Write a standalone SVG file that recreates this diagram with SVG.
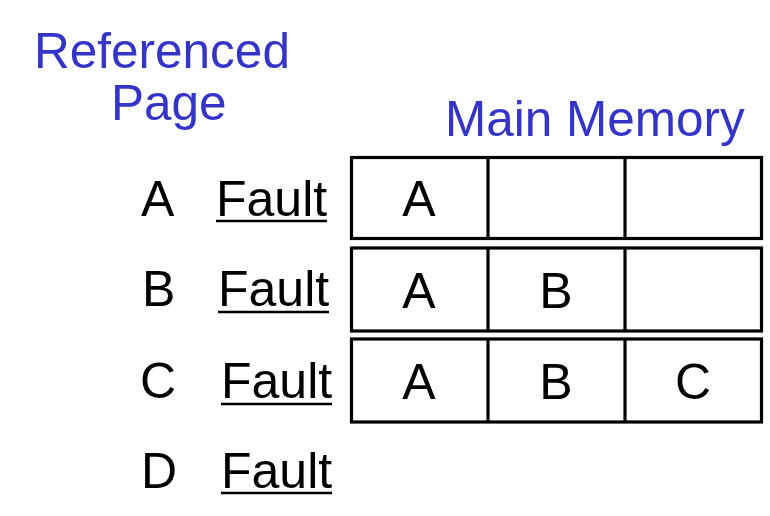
<svg xmlns="http://www.w3.org/2000/svg" width="770" height="516" viewBox="0 0 770 516">
<style>
.t{font-family:"Liberation Sans",Arial,sans-serif;font-size:50px;fill:#000}
.h{font-family:"Liberation Sans",Arial,sans-serif;font-size:49.5px;fill:#3434C8}
.c{text-anchor:middle}
.box{fill:#fff;stroke:#000;stroke-width:3.2}
.ul{stroke:#000;stroke-width:2.5}
</style>
<rect width="770" height="516" fill="#fff"/>
<g id="title-referenced">
<text class="h" x="34" y="68">Referenced</text>
<text class="h" x="111" y="120">Page</text>
</g>
<g id="title-memory">
<text class="h" x="445" y="136">Main Memory</text>
</g>
<g id="ref-A">
<text class="t" x="141" y="216">A</text>
<text class="t" x="216" y="216">Fault</text>
<line class="ul" x1="216" y1="221" x2="327" y2="221"/>
</g>
<g id="ref-B">
<text class="t" x="142" y="306">B</text>
<text class="t" x="218" y="306">Fault</text>
<line class="ul" x1="218" y1="312" x2="329" y2="312"/>
</g>
<g id="ref-C">
<text class="t" x="140" y="398">C</text>
<text class="t" x="221" y="398">Fault</text>
<line class="ul" x1="221" y1="404" x2="332" y2="404"/>
</g>
<g id="ref-D">
<text class="t" x="141" y="488">D</text>
<text class="t" x="221" y="488">Fault</text>
<line class="ul" x1="221" y1="493" x2="332" y2="493"/>
</g>
<g id="mem-row1">
<rect class="box" x="351.5" y="157.5" width="410" height="81"/>
<line class="box" x1="488" y1="157.5" x2="488" y2="238.5"/>
<line class="box" x1="625" y1="157.5" x2="625" y2="238.5"/>
<text class="t c" x="419" y="216">A</text>
</g>
<g id="mem-row2">
<rect class="box" x="351.5" y="248" width="410" height="83"/>
<line class="box" x1="488" y1="248" x2="488" y2="331"/>
<line class="box" x1="625" y1="248" x2="625" y2="331"/>
<text class="t c" x="419" y="308">A</text>
<text class="t c" x="556" y="308">B</text>
</g>
<g id="mem-row3">
<rect class="box" x="351.5" y="339" width="410" height="83"/>
<line class="box" x1="488" y1="339" x2="488" y2="422"/>
<line class="box" x1="625" y1="339" x2="625" y2="422"/>
<text class="t c" x="419" y="399">A</text>
<text class="t c" x="556" y="399">B</text>
<text class="t c" x="693" y="399">C</text>
</g>
<g id="connectors"></g>
</svg>
